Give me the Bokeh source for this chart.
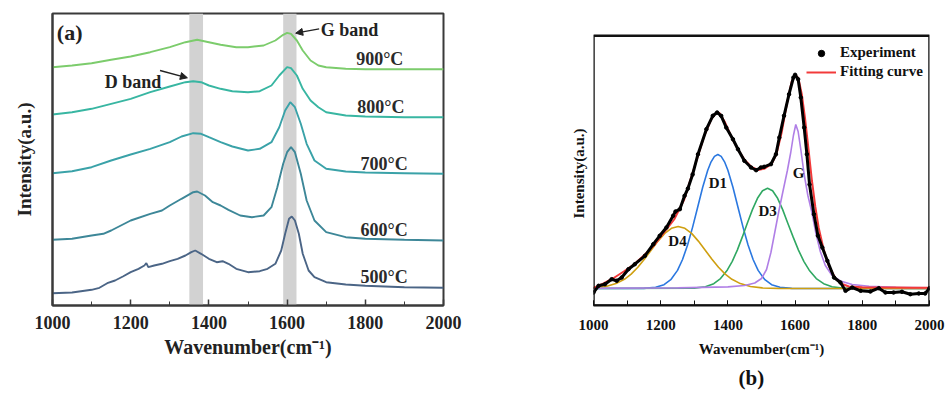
from bokeh.plotting import figure
from bokeh.layouts import row
from bokeh.models import (BoxAnnotation, Label, Arrow, NormalHead, SingleIntervalTicker,
                          FixedTicker, Legend, LegendItem, Range1d, ColumnDataSource, Title)
from bokeh.embed import file_html
from bokeh.resources import INLINE
from bokeh.core.properties import value

FONT = "Liberation Serif"

# ---------------- Panel (a) data: Raman spectra (offset, arbitrary units) ----------------
wn_500 = [1000, 1050, 1100, 1120, 1140, 1160, 1180, 1200, 1220, 1235, 1240, 1245, 1260, 1280, 1300,
          1320, 1340, 1355, 1365, 1380, 1400, 1420, 1435, 1450, 1470, 1500, 1530, 1550, 1570, 1585,
          1595, 1605, 1612, 1620, 1630, 1640, 1655, 1670, 1700, 1750, 1800, 1900, 2000]
int_500 = [11.3, 12.0, 14.7, 16.7, 21.3, 24.0, 28.0, 32.3, 35.7, 39.0, 41.3, 37.3, 39.0, 40.7, 43.3,
           45.7, 49.0, 52.3, 54.0, 50.7, 45.7, 42.3, 43.3, 40.7, 35.7, 32.3, 33.3, 35.7, 40.7, 54.0,
           70.7, 85.7, 88.0, 84.0, 70.7, 50.7, 34.0, 27.3, 22.3, 20.0, 18.7, 17.3, 16.7]

wn_600 = [1000, 1050, 1100, 1130, 1150, 1200, 1250, 1280, 1300, 1330, 1360, 1370, 1390, 1410, 1430,
          1450, 1480, 1510, 1540, 1560, 1575, 1590, 1600, 1610, 1620, 1635, 1650, 1670, 1700, 1750,
          1800, 1900, 2000]
int_600 = [64.7, 65.7, 69.0, 70.7, 74.0, 84.0, 90.7, 94.0, 99.0, 105.7, 112.3, 113.0, 109.0, 102.3, 99.0,
           94.7, 89.0, 87.3, 89.0, 97.3, 117.3, 140.7, 152.3, 157.3, 152.3, 130.7, 104.0, 84.0, 72.3, 67.3,
           65.7, 64.7, 64.0]

wn_700 = [1000, 1050, 1100, 1150, 1200, 1250, 1300, 1330, 1360, 1380, 1400, 1430, 1460, 1500, 1530,
          1560, 1580, 1595, 1608, 1620, 1635, 1650, 1670, 1700, 1750, 1800, 1900, 2000]
int_700 = [131.3, 133.3, 137.3, 144.0, 150.0, 155.7, 162.3, 168.0, 171.3, 170.7, 167.3, 162.3, 158.0, 154.0, 155.7,
           162.3, 177.3, 194.0, 202.3, 197.3, 180.7, 160.7, 144.0, 135.7, 133.0, 132.0, 131.3, 130.7]

wn_800 = [1000, 1050, 1100, 1150, 1200, 1250, 1300, 1340, 1360, 1380, 1400, 1430, 1460, 1500, 1530,
          1560, 1580, 1600, 1610, 1625, 1640, 1660, 1680, 1700, 1750, 1800, 1900, 2000]
int_800 = [190.0, 192.3, 195.7, 200.7, 205.7, 212.3, 218.0, 222.3, 223.3, 222.3, 219.0, 215.7, 213.3, 212.3, 213.3,
           219.0, 229.0, 237.3, 236.3, 229.0, 215.7, 204.0, 197.3, 192.3, 189.0, 188.0, 187.3, 187.3]

wn_900 = [1000, 1050, 1100, 1150, 1200, 1250, 1300, 1340, 1370, 1400, 1430, 1470, 1500, 1540, 1570,
          1590, 1600, 1610, 1625, 1640, 1660, 1680, 1700, 1750, 1800, 2000]
int_900 = [237.3, 239.0, 241.3, 244.7, 248.0, 252.3, 257.3, 262.3, 264.7, 262.3, 259.7, 257.3, 257.3, 259.0, 264.0,
           269.7, 271.7, 270.7, 264.0, 254.0, 244.0, 239.0, 237.3, 235.7, 235.3, 235.3]

temps = ["500°C", "600°C", "700°C", "800°C", "900°C"]
colors_a = ["#4b6586", "#3d8798", "#3aa2a8", "#38b6a2", "#7ccc6c"]
temp_label_x = [1848, 1848, 1848, 1840, 1837]
temp_label_y = [27.3, 74.7, 140.7, 198.0, 245.7]

band_left = [1350, 1590]
band_right = [1385, 1624]

# ---------------- Panel (b) data: experiment, fit and components ----------------
exp_x = [1000, 1015, 1034, 1054, 1069, 1084, 1104, 1123, 1153, 1178, 1197, 1217, 1237, 1244, 1257, 1271,
         1281, 1295, 1311, 1336, 1355, 1368, 1380, 1395, 1415, 1430, 1449, 1469, 1484, 1498, 1508, 1528,
         1543, 1553, 1567, 1582, 1595, 1600, 1609, 1617, 1627, 1635, 1643, 1656, 1668, 1681, 1696, 1716,
         1735, 1750, 1770, 1795, 1824, 1849, 1869, 1893, 1918, 1943, 1968, 1987, 2000]
exp_y = [15.0, 21.7, 23.3, 28.3, 26.7, 30.0, 38.3, 43.3, 51.7, 63.3, 71.7, 80.0, 91.7, 96.0, 98.3, 111.7,
         119.0, 133.0, 153.3, 178.3, 191.7, 195.0, 191.7, 180.0, 168.3, 158.3, 146.7, 140.0, 137.3, 140.0, 140.7, 143.3,
         153.3, 170.0, 191.7, 213.3, 230.0, 232.7, 228.3, 210.0, 180.0, 153.3, 123.0, 93.3, 71.7, 60.0, 46.7, 30.0,
         25.0, 16.7, 20.0, 16.7, 16.0, 19.3, 15.0, 15.0, 15.7, 13.3, 14.0, 14.0, 19.3]

fit_x = [1000, 1030, 1060, 1090, 1120, 1150, 1180, 1210, 1240, 1270, 1300, 1330, 1350, 1365, 1375, 1390,
         1410, 1430, 1450, 1470, 1490, 1510, 1530, 1545, 1560, 1575, 1590, 1600, 1610, 1620, 1630, 1640,
         1650, 1660, 1670, 1685, 1700, 1720, 1740, 1760, 1800, 1850, 1900, 1950, 2000]
fit_y = [19.5, 24.0, 29.5, 36.0, 43.0, 52.0, 62.0, 75.0, 88.0, 108.0, 140.0, 172.0, 188.0, 194.5, 194.5, 186.0,
         171.0, 158.0, 147.5, 140.5, 137.5, 139.0, 143.5, 154.0, 175.0, 203.0, 226.0, 233.0, 229.0, 213.0, 188.0, 158.0,
         127.0, 101.0, 80.0, 58.0, 42.0, 29.0, 23.5, 21.0, 20.2, 20.0, 19.9, 19.8, 19.8]

d1_x = [1000, 1150, 1185, 1210, 1230, 1250, 1265, 1280, 1295, 1310, 1325, 1340, 1350, 1360, 1370, 1380,
        1390, 1400, 1415, 1430, 1445, 1460, 1475, 1490, 1510, 1530, 1555, 1590, 2000]
d1_y = [19.0, 19.1, 20.2, 22.8, 27.8, 37.1, 48.0, 62.5, 80.4, 100.3, 120.2, 137.3, 145.7, 151.1, 153.0, 151.1,
        145.7, 137.3, 120.2, 100.3, 80.4, 62.5, 48.0, 37.1, 27.8, 22.8, 20.2, 19.1, 19.0]

d3_x = [1000, 1300, 1333, 1358, 1378, 1398, 1413, 1428, 1443, 1458, 1473, 1488, 1503, 1518, 1533, 1548,
        1563, 1578, 1594, 1610, 1626, 1642, 1663, 1685, 1710, 1740, 2000]
d3_y = [19.0, 19.4, 20.7, 23.8, 28.9, 37.3, 46.2, 57.4, 70.6, 84.5, 97.9, 109.2, 116.7, 119.3, 116.7, 109.2,
        97.9, 84.5, 70.6, 57.4, 46.2, 37.3, 28.9, 23.8, 20.7, 19.4, 19.0]

d4_x = [1000, 1037, 1067, 1092, 1112, 1132, 1152, 1172, 1192, 1212, 1232, 1252, 1272, 1292, 1312, 1332,
        1352, 1372, 1392, 1412, 1437, 1467, 1502, 1550, 2000]
d4_y = [19.6, 21.0, 23.9, 28.2, 33.4, 40.2, 48.5, 57.5, 66.4, 74.1, 79.2, 81.0, 79.2, 74.1, 66.4, 57.5,
        48.5, 40.2, 33.4, 28.2, 23.9, 21.0, 19.6, 19.1, 19.0]

g_x = [1000, 1250, 1400, 1450, 1480, 1500, 1515, 1528, 1540, 1552, 1565, 1577, 1587, 1595, 1602, 1609,
       1617, 1627, 1638, 1650, 1662, 1675, 1690, 1710, 1735, 1770, 1820, 1900, 2000]
g_y = [19.2, 19.6, 20.6, 22.0, 24.5, 29.0, 38.0, 55.0, 76.0, 97.0, 118.0, 137.0, 155.0, 172.0, 183.0, 176.0,
       158.0, 133.0, 112.0, 95.0, 74.0, 56.0, 42.0, 32.0, 26.5, 23.0, 21.2, 20.2, 19.8]

comp_names = ["D1", "D3", "D4", "G"]
comp_colors = ["#2b78e0", "#30a862", "#cf9f10", "#b07fe6"]
comp_label_x = [1370, 1518, 1250, 1610]
comp_label_y = [125.0, 96.7, 66.7, 135.0]

# panel (b) plot box top (its frame is drawn as a box, top at this value)
b_box_top = 271.7


def style_frame(p):
    p.xgrid.visible = False
    p.ygrid.visible = False
    p.background_fill_color = "white"
    p.border_fill_color = "white"


# ================= Panel (a) =================
pa = figure(width=561, height=405, x_range=Range1d(1000, 2000), y_range=Range1d(-1, 291),
            output_backend="svg", toolbar_location=None,
            min_border_left=52, min_border_right=118, min_border_top=13, min_border_bottom=100)
style_frame(pa)
pa.outline_line_color = "#3a3a3a"
pa.outline_line_width = 2
pa.outline_line_alpha = 1

for l, r in zip(band_left, band_right):
    pa.add_layout(BoxAnnotation(left=l, right=r, fill_color="#d2d2d2", fill_alpha=1,
                                line_color=None, level="underlay"))

series_a = [(wn_500, int_500), (wn_600, int_600), (wn_700, int_700), (wn_800, int_800), (wn_900, int_900)]
for (xs, ys), c in zip(series_a, colors_a):
    pa.line(xs, ys, line_color=c, line_width=1.9)

src_t = ColumnDataSource(dict(x=temp_label_x, y=temp_label_y, t=temps))
pa.text(x="x", y="y", text="t", source=src_t, text_font=value(FONT), text_font_style="bold",
        text_font_size="18px", text_align="center", text_baseline="middle", text_color="#2a2a2a")

pa.add_layout(Label(x=1011, y=272.3, text="(a)", text_font=FONT, text_font_style="bold",
                    text_font_size="22px", text_baseline="middle", text_align="left", text_color="#222222"))
pa.add_layout(Label(x=1686, y=274.7, text="G band", text_font=FONT, text_font_style="bold",
                    text_font_size="18px", text_baseline="middle", text_align="left", text_color="#222222"))
pa.add_layout(Label(x=1206, y=222.3, text="D band", text_font=FONT, text_font_style="bold",
                    text_font_size="18px", text_baseline="middle", text_align="center", text_color="#222222"))
pa.add_layout(Arrow(end=NormalHead(size=7, fill_color="#222222", line_color="#222222"),
                    x_start=1682, y_start=275.7, x_end=1622, y_end=271.3,
                    line_color="#222222", line_width=1.3))
pa.add_layout(Arrow(end=NormalHead(size=7, fill_color="#222222", line_color="#222222"),
                    x_start=1275, y_start=234.0, x_end=1345, y_end=226.7,
                    line_color="#222222", line_width=1.3))

xa = pa.xaxis[0]
xa.ticker = SingleIntervalTicker(interval=200, num_minor_ticks=2)
xa.axis_line_color = "#3a3a3a"
xa.axis_line_width = 2
xa.major_tick_in = 6
xa.major_tick_out = 0
xa.minor_tick_in = 4
xa.minor_tick_out = 0
xa.major_tick_line_color = "#3a3a3a"
xa.minor_tick_line_color = "#3a3a3a"
xa.major_tick_line_width = 1.5
xa.major_label_text_font = FONT
xa.major_label_text_font_style = "bold"
xa.major_label_text_font_size = "18px"
xa.major_label_text_color = "#222222"
xa.major_label_standoff = 10
xa.axis_label = "Wavenumber(cm⁻¹)"
xa.axis_label_text_font = FONT
xa.axis_label_text_font_style = "bold"
xa.axis_label_text_font_size = "20px"
xa.axis_label_text_color = "#222222"
xa.axis_label_standoff = 4

ya = pa.yaxis[0]
ya.ticker = FixedTicker(ticks=[])
ya.axis_line_color = "#3a3a3a"
ya.axis_line_width = 2
ya.major_tick_out = 0
ya.major_tick_in = 0
ya.minor_tick_out = 0
ya.minor_tick_in = 0
ya.major_label_standoff = 0
ya.axis_label = "Intensity(a.u.)"
ya.axis_label_text_font = FONT
ya.axis_label_text_font_style = "bold"
ya.axis_label_text_font_size = "19px"
ya.axis_label_text_color = "#222222"
ya.axis_label_standoff = 18

# ================= Panel (b) =================
pb = figure(width=384, height=405, x_range=Range1d(1000, 2000), y_range=Range1d(2, 294),
            output_backend="svg", toolbar_location=None,
            min_border_left=31, min_border_right=16, min_border_top=13, min_border_bottom=100)
style_frame(pb)
pb.outline_line_color = None

pb.add_layout(BoxAnnotation(left=1000, right=2000, bottom=2, top=b_box_top, fill_alpha=0,
                            line_color="#111111", line_alpha=1, line_width=2.5, level="overlay"))

comp_series = [(d1_x, d1_y), (d3_x, d3_y), (d4_x, d4_y), (g_x, g_y)]
for (xs, ys), c in zip(comp_series, comp_colors):
    pb.line(xs, ys, line_color=c, line_width=1.6)

r_fit = pb.line(fit_x, fit_y, line_color="#f23a3a", line_width=2)
pb.line(exp_x, exp_y, line_color="black", line_width=3)
r_exp = pb.scatter(exp_x, exp_y, size=3.5, color="black")

src_c = ColumnDataSource(dict(x=comp_label_x, y=comp_label_y, t=comp_names))
pb.text(x="x", y="y", text="t", source=src_c, text_font=value(FONT), text_font_style="bold",
        text_font_size="15px", text_align="center", text_baseline="middle", text_color="#111111")

legend = Legend(items=[LegendItem(label="Experiment", renderers=[r_exp]),
                       LegendItem(label="Fitting curve", renderers=[r_fit])],
                location=(213, 225), border_line_color=None, background_fill_alpha=0,
                label_text_font=FONT, label_text_font_style="bold", label_text_font_size="15px",
                label_text_color="#111111", glyph_width=30, glyph_height=16, label_height=16,
                spacing=2, padding=0, margin=0, label_standoff=4)
pb.add_layout(legend)

xb = pb.xaxis[0]
xb.ticker = SingleIntervalTicker(interval=200, num_minor_ticks=2)
xb.axis_line_color = "#111111"
xb.axis_line_width = 2
xb.major_tick_in = 5
xb.major_tick_out = 0
xb.minor_tick_in = 5
xb.minor_tick_out = 0
xb.major_tick_line_color = "#111111"
xb.minor_tick_line_color = "#111111"
xb.major_label_text_font = FONT
xb.major_label_text_font_style = "bold"
xb.major_label_text_font_size = "15px"
xb.major_label_text_color = "#111111"
xb.major_label_standoff = 14
xb.axis_label = "Wavenumber(cm⁻¹)"
xb.axis_label_text_font = FONT
xb.axis_label_text_font_style = "bold"
xb.axis_label_text_font_size = "15px"
xb.axis_label_text_color = "#111111"
xb.axis_label_standoff = 8

yb = pb.yaxis[0]
yb.ticker = FixedTicker(ticks=[])
yb.axis_line_color = None
yb.major_tick_out = 0
yb.major_tick_in = 0
yb.minor_tick_out = 0
yb.minor_tick_in = 0
yb.major_label_standoff = 0

pb.add_layout(Title(text="Intensity(a.u.)", align="left", offset=87, text_font=FONT,
                    text_font_style="bold", text_font_size="15px", text_color="#111111",
                    standoff=14), "left")
pb.add_layout(Title(text="(b)", align="left", offset=145, text_font=FONT,
                    text_font_style="bold", text_font_size="21px", text_color="#111111",
                    standoff=8), "below")

layout = row(pa, pb)
open("out.html", "w").write(file_html(layout, INLINE))
